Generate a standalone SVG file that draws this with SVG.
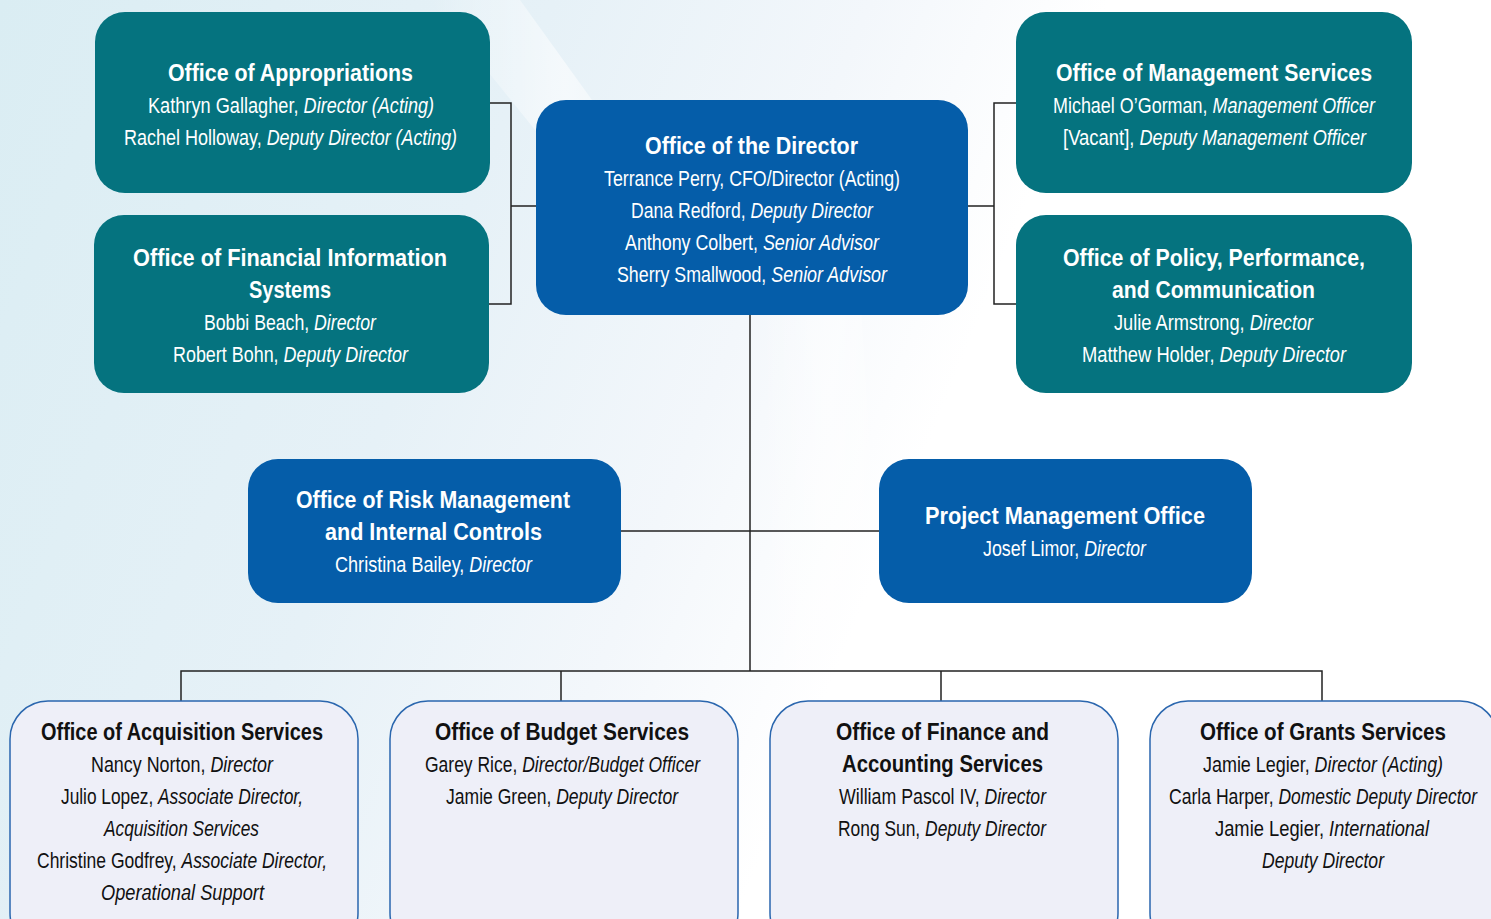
<svg xmlns="http://www.w3.org/2000/svg" width="1491" height="919" viewBox="0 0 1491 919">
<defs>
<linearGradient id="bg" x1="0" y1="0" x2="1" y2="0.25">
<stop offset="0" stop-color="#DAEDF3"/>
<stop offset="0.35" stop-color="#E6F1F7"/>
<stop offset="0.55" stop-color="#F3F7FB"/>
<stop offset="0.7" stop-color="#FFFFFF"/>
<stop offset="1" stop-color="#FFFFFF"/>
</linearGradient>
<linearGradient id="sw" x1="0" y1="0" x2="1" y2="0">
<stop offset="0" stop-color="#FFFFFF" stop-opacity="0"/>
<stop offset="0.5" stop-color="#FFFFFF" stop-opacity="0.8"/>
<stop offset="1" stop-color="#FFFFFF" stop-opacity="0"/>
</linearGradient>
<style>
.teal{fill:#05737F}
.blue{fill:#055DA9}
.lite{fill:#EEEFF8;stroke:#2A66AE;stroke-width:1.5}
text{font-family:"Liberation Sans",Arial,sans-serif}
.t{font-weight:bold;font-size:21.3px}
.r{font-size:17.7px}
.w{fill:#FFFFFF}
.k{fill:#111111}
.i{font-style:italic}
.conn{fill:none;stroke:#222222;stroke-width:1.5}
</style>
</defs>
<rect x="0" y="0" width="1491" height="919" fill="url(#bg)"/>
<path d="M430 0 L520 0 L700 250 L640 260 Z" fill="url(#sw)" opacity="0.7"/>
<path d="M760 300 L860 290 L900 919 L780 919 Z" fill="url(#sw)" opacity="0.6"/>

<g id="connectors" class="conn">
<path d="M490 103 H511 V304 H489 M511 206 H536"/>
<path d="M1016 103 H994 V304 H1016 M994 206 H968"/>
<path d="M750 315 V671"/>
<path d="M621 531 H879"/>
<path d="M181 701 V671 H1322 V701 M561 671 V701 M941 671 V701"/>
</g>

<g id="appropriations">
<rect class="teal" x="95" y="12" width="395" height="181" rx="30"/>
<text class="t w" x="168" y="81" transform="matrix(1 0 0 1.07981 0 -6.46)" textLength="245" lengthAdjust="spacingAndGlyphs">Office of Appropriations</text>
<text class="r w" x="148" y="113" transform="matrix(1 0 0 1.24294 0 -27.45)" textLength="150.5" lengthAdjust="spacingAndGlyphs">Kathryn Gallagher,</text>
<text class="r w i" x="303.6" y="113" transform="matrix(1 0 0 1.24294 0 -27.45)" textLength="130.4" lengthAdjust="spacingAndGlyphs">Director (Acting)</text>
<text class="r w" x="124" y="145" transform="matrix(1 0 0 1.24294 0 -35.23)" textLength="137.8" lengthAdjust="spacingAndGlyphs">Rachel Holloway,</text>
<text class="r w i" x="266.7" y="145" transform="matrix(1 0 0 1.24294 0 -35.23)" textLength="190.3" lengthAdjust="spacingAndGlyphs">Deputy Director (Acting)</text>
</g>

<g id="financial-info">
<rect class="teal" x="94" y="215" width="395" height="178" rx="30"/>
<text class="t w" x="133" y="266" transform="matrix(1 0 0 1.07981 0 -21.23)" textLength="314" lengthAdjust="spacingAndGlyphs">Office of Financial Information</text>
<text class="t w" x="249" y="298" transform="matrix(1 0 0 1.07981 0 -23.78)" textLength="82" lengthAdjust="spacingAndGlyphs">Systems</text>
<text class="r w" x="204" y="330" transform="matrix(1 0 0 1.24294 0 -80.17)" textLength="105.2" lengthAdjust="spacingAndGlyphs">Bobbi Beach,</text>
<text class="r w i" x="314.1" y="330" transform="matrix(1 0 0 1.24294 0 -80.17)" textLength="61.9" lengthAdjust="spacingAndGlyphs">Director</text>
<text class="r w" x="173" y="362" transform="matrix(1 0 0 1.24294 0 -87.94)" textLength="105.6" lengthAdjust="spacingAndGlyphs">Robert Bohn,</text>
<text class="r w i" x="283.5" y="362" transform="matrix(1 0 0 1.24294 0 -87.94)" textLength="124.5" lengthAdjust="spacingAndGlyphs">Deputy Director</text>
</g>

<g id="director">
<rect class="blue" x="536" y="100" width="432" height="215" rx="30"/>
<text class="t w" x="645" y="154" transform="matrix(1 0 0 1.07981 0 -12.29)" textLength="213" lengthAdjust="spacingAndGlyphs">Office of the Director</text>
<text class="r w" x="604" y="186" transform="matrix(1 0 0 1.24294 0 -45.19)" textLength="296" lengthAdjust="spacingAndGlyphs">Terrance Perry, CFO/Director (Acting)</text>
<text class="r w" x="631" y="218" transform="matrix(1 0 0 1.24294 0 -52.96)" textLength="114.6" lengthAdjust="spacingAndGlyphs">Dana Redford,</text>
<text class="r w i" x="750.5" y="218" transform="matrix(1 0 0 1.24294 0 -52.96)" textLength="122.5" lengthAdjust="spacingAndGlyphs">Deputy Director</text>
<text class="r w" x="625" y="250" transform="matrix(1 0 0 1.24294 0 -60.74)" textLength="133" lengthAdjust="spacingAndGlyphs">Anthony Colbert,</text>
<text class="r w i" x="762.9" y="250" transform="matrix(1 0 0 1.24294 0 -60.74)" textLength="116.1" lengthAdjust="spacingAndGlyphs">Senior Advisor</text>
<text class="r w" x="617" y="282" transform="matrix(1 0 0 1.24294 0 -68.51)" textLength="149.3" lengthAdjust="spacingAndGlyphs">Sherry Smallwood,</text>
<text class="r w i" x="771.3" y="282" transform="matrix(1 0 0 1.24294 0 -68.51)" textLength="115.7" lengthAdjust="spacingAndGlyphs">Senior Advisor</text>
</g>

<g id="management">
<rect class="teal" x="1016" y="12" width="396" height="181" rx="30"/>
<text class="t w" x="1056" y="81" transform="matrix(1 0 0 1.07981 0 -6.46)" textLength="316" lengthAdjust="spacingAndGlyphs">Office of Management Services</text>
<text class="r w" x="1053" y="113" transform="matrix(1 0 0 1.24294 0 -27.45)" textLength="154.5" lengthAdjust="spacingAndGlyphs">Michael O’Gorman,</text>
<text class="r w i" x="1212.5" y="113" transform="matrix(1 0 0 1.24294 0 -27.45)" textLength="162.5" lengthAdjust="spacingAndGlyphs">Management Officer</text>
<text class="r w" x="1063" y="145" transform="matrix(1 0 0 1.24294 0 -35.23)" textLength="71.5" lengthAdjust="spacingAndGlyphs">[Vacant],</text>
<text class="r w i" x="1139.5" y="145" transform="matrix(1 0 0 1.24294 0 -35.23)" textLength="226.5" lengthAdjust="spacingAndGlyphs">Deputy Management Officer</text>
</g>

<g id="policy">
<rect class="teal" x="1016" y="215" width="396" height="178" rx="30"/>
<text class="t w" x="1063" y="266" transform="matrix(1 0 0 1.07981 0 -21.23)" textLength="302" lengthAdjust="spacingAndGlyphs">Office of Policy, Performance,</text>
<text class="t w" x="1112" y="298" transform="matrix(1 0 0 1.07981 0 -23.78)" textLength="203" lengthAdjust="spacingAndGlyphs">and Communication</text>
<text class="r w" x="1114" y="330" transform="matrix(1 0 0 1.24294 0 -80.17)" textLength="130.7" lengthAdjust="spacingAndGlyphs">Julie Armstrong,</text>
<text class="r w i" x="1249.7" y="330" transform="matrix(1 0 0 1.24294 0 -80.17)" textLength="63.3" lengthAdjust="spacingAndGlyphs">Director</text>
<text class="r w" x="1082" y="362" transform="matrix(1 0 0 1.24294 0 -87.94)" textLength="132.5" lengthAdjust="spacingAndGlyphs">Matthew Holder,</text>
<text class="r w i" x="1219.6" y="362" transform="matrix(1 0 0 1.24294 0 -87.94)" textLength="126.4" lengthAdjust="spacingAndGlyphs">Deputy Director</text>
</g>

<g id="risk">
<rect class="blue" x="248" y="459" width="373" height="144" rx="30"/>
<text class="t w" x="296" y="508" transform="matrix(1 0 0 1.07981 0 -40.54)" textLength="274" lengthAdjust="spacingAndGlyphs">Office of Risk Management</text>
<text class="t w" x="325" y="540" transform="matrix(1 0 0 1.07981 0 -43.10)" textLength="217" lengthAdjust="spacingAndGlyphs">and Internal Controls</text>
<text class="r w" x="335" y="572" transform="matrix(1 0 0 1.24294 0 -138.96)" textLength="129.4" lengthAdjust="spacingAndGlyphs">Christina Bailey,</text>
<text class="r w i" x="469.3" y="572" transform="matrix(1 0 0 1.24294 0 -138.96)" textLength="62.7" lengthAdjust="spacingAndGlyphs">Director</text>
</g>

<g id="pmo">
<rect class="blue" x="879" y="459" width="373" height="144" rx="30"/>
<text class="t w" x="925" y="524" transform="matrix(1 0 0 1.07981 0 -41.82)" textLength="280" lengthAdjust="spacingAndGlyphs">Project Management Office</text>
<text class="r w" x="983" y="556" transform="matrix(1 0 0 1.24294 0 -135.07)" textLength="96.2" lengthAdjust="spacingAndGlyphs">Josef Limor,</text>
<text class="r w i" x="1084.2" y="556" transform="matrix(1 0 0 1.24294 0 -135.07)" textLength="61.8" lengthAdjust="spacingAndGlyphs">Director</text>
</g>

<g id="acquisition">
<rect class="lite" x="10" y="701" width="348" height="250" rx="38"/>
<text class="t k" x="41" y="740" transform="matrix(1 0 0 1.07981 0 -59.06)" textLength="282" lengthAdjust="spacingAndGlyphs">Office of Acquisition Services</text>
<text class="r k" x="91" y="772" transform="matrix(1 0 0 1.24294 0 -187.55)" textLength="114.4" lengthAdjust="spacingAndGlyphs">Nancy Norton,</text>
<text class="r k i" x="210.4" y="772" transform="matrix(1 0 0 1.24294 0 -187.55)" textLength="62.6" lengthAdjust="spacingAndGlyphs">Director</text>
<text class="r k" x="61" y="804" transform="matrix(1 0 0 1.24294 0 -195.32)" textLength="92.2" lengthAdjust="spacingAndGlyphs">Julio Lopez,</text>
<text class="r k i" x="158" y="804" transform="matrix(1 0 0 1.24294 0 -195.32)" textLength="145" lengthAdjust="spacingAndGlyphs">Associate Director,</text>
<text class="r k i" x="104" y="836" transform="matrix(1 0 0 1.24294 0 -203.10)" textLength="155" lengthAdjust="spacingAndGlyphs">Acquisition Services</text>
<text class="r k" x="37" y="868" transform="matrix(1 0 0 1.24294 0 -210.87)" textLength="139.7" lengthAdjust="spacingAndGlyphs">Christine Godfrey,</text>
<text class="r k i" x="181.5" y="868" transform="matrix(1 0 0 1.24294 0 -210.87)" textLength="145.5" lengthAdjust="spacingAndGlyphs">Associate Director,</text>
<text class="r k i" x="101" y="900" transform="matrix(1 0 0 1.24294 0 -218.65)" textLength="163" lengthAdjust="spacingAndGlyphs">Operational Support</text>
</g>

<g id="budget">
<rect class="lite" x="390" y="701" width="348" height="250" rx="38"/>
<text class="t k" x="435" y="740" transform="matrix(1 0 0 1.07981 0 -59.06)" textLength="254" lengthAdjust="spacingAndGlyphs">Office of Budget Services</text>
<text class="r k" x="425" y="772" transform="matrix(1 0 0 1.24294 0 -187.55)" textLength="92.3" lengthAdjust="spacingAndGlyphs">Garey Rice,</text>
<text class="r k i" x="522.2" y="772" transform="matrix(1 0 0 1.24294 0 -187.55)" textLength="177.8" lengthAdjust="spacingAndGlyphs">Director/Budget Officer</text>
<text class="r k" x="446" y="804" transform="matrix(1 0 0 1.24294 0 -195.32)" textLength="105.3" lengthAdjust="spacingAndGlyphs">Jamie Green,</text>
<text class="r k i" x="556.2" y="804" transform="matrix(1 0 0 1.24294 0 -195.32)" textLength="121.8" lengthAdjust="spacingAndGlyphs">Deputy Director</text>
</g>

<g id="finance">
<rect class="lite" x="770" y="701" width="348" height="250" rx="38"/>
<text class="t k" x="836" y="740" transform="matrix(1 0 0 1.07981 0 -59.06)" textLength="213" lengthAdjust="spacingAndGlyphs">Office of Finance and</text>
<text class="t k" x="842" y="772" transform="matrix(1 0 0 1.07981 0 -61.61)" textLength="201" lengthAdjust="spacingAndGlyphs">Accounting Services</text>
<text class="r k" x="839" y="804" transform="matrix(1 0 0 1.24294 0 -195.32)" textLength="140.6" lengthAdjust="spacingAndGlyphs">William Pascol IV,</text>
<text class="r k i" x="984.5" y="804" transform="matrix(1 0 0 1.24294 0 -195.32)" textLength="61.5" lengthAdjust="spacingAndGlyphs">Director</text>
<text class="r k" x="838" y="836" transform="matrix(1 0 0 1.24294 0 -203.10)" textLength="82.2" lengthAdjust="spacingAndGlyphs">Rong Sun,</text>
<text class="r k i" x="925.1" y="836" transform="matrix(1 0 0 1.24294 0 -203.10)" textLength="120.9" lengthAdjust="spacingAndGlyphs">Deputy Director</text>
</g>

<g id="grants">
<rect class="lite" x="1150" y="701" width="348" height="250" rx="38"/>
<text class="t k" x="1200" y="740" transform="matrix(1 0 0 1.07981 0 -59.06)" textLength="246" lengthAdjust="spacingAndGlyphs">Office of Grants Services</text>
<text class="r k" x="1203" y="772" transform="matrix(1 0 0 1.24294 0 -187.55)" textLength="106.7" lengthAdjust="spacingAndGlyphs">Jamie Legier,</text>
<text class="r k i" x="1314.6" y="772" transform="matrix(1 0 0 1.24294 0 -187.55)" textLength="128.4" lengthAdjust="spacingAndGlyphs">Director (Acting)</text>
<text class="r k" x="1169" y="804" transform="matrix(1 0 0 1.24294 0 -195.32)" textLength="104.6" lengthAdjust="spacingAndGlyphs">Carla Harper,</text>
<text class="r k i" x="1278.4" y="804" transform="matrix(1 0 0 1.24294 0 -195.32)" textLength="198.6" lengthAdjust="spacingAndGlyphs">Domestic Deputy Director</text>
<text class="r k" x="1215" y="836" transform="matrix(1 0 0 1.24294 0 -203.10)" textLength="109.1" lengthAdjust="spacingAndGlyphs">Jamie Legier,</text>
<text class="r k i" x="1329.1" y="836" transform="matrix(1 0 0 1.24294 0 -203.10)" textLength="99.9" lengthAdjust="spacingAndGlyphs">International</text>
<text class="r k i" x="1262" y="868" transform="matrix(1 0 0 1.24294 0 -210.87)" textLength="122" lengthAdjust="spacingAndGlyphs">Deputy Director</text>
</g>
</svg>
